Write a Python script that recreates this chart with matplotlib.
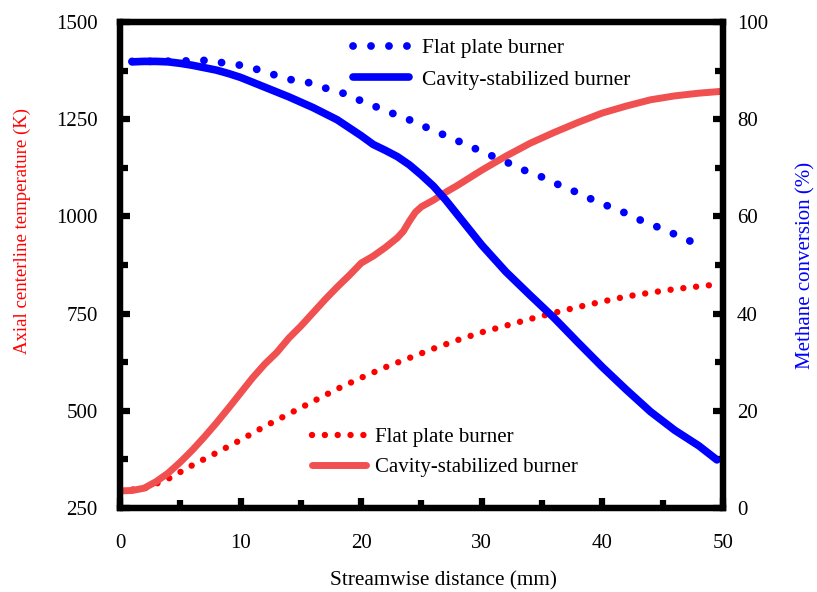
import numpy as np
import matplotlib.pyplot as plt
from matplotlib.lines import Line2D
from matplotlib.ticker import MultipleLocator

plt.rcParams['font.family'] = ['Liberation Serif', 'DejaVu Serif']

# axial temperature, cavity-stabilized burner (K)
x_temp_cavity = [0, 1, 2, 3, 4, 5, 6, 7, 8, 9, 10, 11, 12, 13, 14, 15, 16, 17, 18, 19,
                 20, 21, 22, 23, 23.5, 24, 24.5, 25, 26, 27, 28, 30, 32, 34, 36, 38,
                 40, 42, 44, 46, 48, 50]
t_cavity = [294, 295, 301, 318, 340, 368, 399, 433, 469, 507, 546, 585, 620, 650, 687,
            718, 752, 786, 818, 848, 880, 898, 920, 945, 962, 988, 1011, 1025, 1042,
            1062, 1080, 1119, 1155, 1188, 1216, 1242, 1266, 1284, 1300, 1310, 1317, 1322]

# axial temperature, flat plate burner (K)
x_temp_flat = [0, 2, 4, 6, 8, 10, 12, 14, 16, 18, 20, 22, 24, 26, 28, 30, 32, 34, 36,
               38, 40, 42, 44, 46, 48, 49.5]
t_flat = [295, 300, 325, 360, 392, 425, 460, 492, 524, 556, 585, 612, 636, 660, 682,
          702, 719, 736, 752, 767, 781, 794, 804, 813, 820, 825]

# methane conversion, cavity-stabilized burner (%)
x_conv_cavity = [1, 2, 3, 4, 5, 6, 7, 8, 9, 10, 12, 14, 16, 18, 20, 21, 22, 23, 24, 25,
                 26, 27, 28, 30, 32, 34, 36, 38, 40, 42, 44, 46, 48, 49.5]
c_cavity = [91.8, 91.9, 91.9, 91.8, 91.5, 91.1, 90.6, 90.1, 89.4, 88.6, 86.6, 84.6,
            82.4, 79.9, 76.6, 74.8, 73.6, 72.3, 70.6, 68.5, 66.2, 63.4, 60.3, 54.1,
            48.6, 43.8, 39.1, 34.0, 29.0, 24.3, 19.8, 16.0, 12.8, 9.9]

# methane conversion, flat plate burner (%)
x_conv_flat = [1, 3, 5, 6.3, 7.6, 8.8, 10.1, 11.3, 12.6, 13.9, 15.2, 16.5, 17.7, 19,
               20.2, 21.4, 22.6, 23.7, 24.9, 26.3, 27.4, 28.7, 30.2, 31.4, 32.5, 33.7,
               34.9, 36.1, 37.3, 38.5, 39.6, 40.8, 42, 43.1, 44.3, 45.5, 46.7, 47.9]
c_flat = [91.9, 91.9, 92.0, 92.0, 92.2, 91.4, 91.1, 90.3, 89.3, 88.2, 87.9, 86.8, 85.9,
          85.0, 83.5, 82.4, 81.2, 80.2, 78.9, 77.3, 76.3, 74.7, 73.2, 71.8, 70.7, 69.3,
          68.2, 66.8, 65.6, 64.2, 63.0, 61.8, 60.6, 59.3, 58.1, 56.9, 55.5, 54.3]

RED_SOLID = '#f05050'
RED_DOT = '#ff0000'
BLUE = '#0000ff'
# round-capped zero-length dashes give dotted lines
dots_red = (0, (0.01, 2.0))
dots_blue = (0, (0.01, 2.3))
LW_RED_DOT, LW_BLUE_DOT = 4.6, 5.6

fig = plt.figure(figsize=(8.17, 5.92), dpi=100)
ax = fig.add_axes([0.1469, 0.1419, 0.7380, 0.8209])
ax2 = ax.twinx()

ax.plot(x_temp_flat, t_flat, color=RED_DOT, lw=LW_RED_DOT, ls=dots_red, dash_capstyle='round')
ax.plot(x_temp_cavity, t_cavity, color=RED_SOLID, lw=5, solid_capstyle='round')
ax2.plot(x_conv_flat, c_flat, color=BLUE, lw=LW_BLUE_DOT, ls=dots_blue, dash_capstyle='round')
ax2.plot(x_conv_cavity, c_cavity, color=BLUE, lw=5.5, solid_capstyle='round')

ax.set_xlim(0, 50)
ax.set_ylim(250, 1500)
ax2.set_ylim(0, 100)

ax.xaxis.set_major_locator(MultipleLocator(10))
ax.xaxis.set_minor_locator(MultipleLocator(5))
ax.yaxis.set_major_locator(MultipleLocator(250))
ax.yaxis.set_minor_locator(MultipleLocator(125))
ax2.yaxis.set_major_locator(MultipleLocator(20))
ax2.yaxis.set_minor_locator(MultipleLocator(10))

for a in (ax, ax2):
    for s in a.spines.values():
        s.set_linewidth(4.5)
    a.tick_params(which='major', direction='in', length=7, width=4.5, labelsize=15)
    a.tick_params(which='minor', direction='in', length=6, width=4.5)
ax.tick_params(axis='x', pad=19)
ax.tick_params(axis='y', pad=16)
ax2.tick_params(axis='y', pad=10)

ax.set_xlabel('Streamwise distance (mm)', fontsize=15.3, labelpad=13, x=0.537)
ax.set_ylabel('Axial centerline temperature (K)', fontsize=13.5, color=RED_DOT,
              labelpad=18, y=0.57)
ax2.set_ylabel('Methane conversion (%)', fontsize=15, color=BLUE, labelpad=20)

top_handles = [Line2D([], [], color=BLUE, lw=LW_BLUE_DOT, ls=dots_blue, dash_capstyle='round'),
               Line2D([], [], color=BLUE, lw=5.5, solid_capstyle='round')]
bottom_handles = [Line2D([], [], color=RED_DOT, lw=LW_RED_DOT, ls=dots_red, dash_capstyle='round'),
                  Line2D([], [], color=RED_SOLID, lw=5, solid_capstyle='round')]
labels = ['Flat plate burner', 'Cavity-stabilized burner']

leg1 = ax2.legend(top_handles, labels, loc='upper left', bbox_to_anchor=(0.355, 1.007),
                  frameon=False, fontsize=15.5, handlelength=2.6, handletextpad=0.6,
                  labelspacing=0.55)
leg2 = ax2.legend(bottom_handles, labels, loc='lower left', bbox_to_anchor=(0.287, 0.025),
                  frameon=False, fontsize=15, handlelength=2.6, handletextpad=0.45,
                  labelspacing=0.5)
ax2.add_artist(leg1)

fig.savefig('out.png', dpi=100)
